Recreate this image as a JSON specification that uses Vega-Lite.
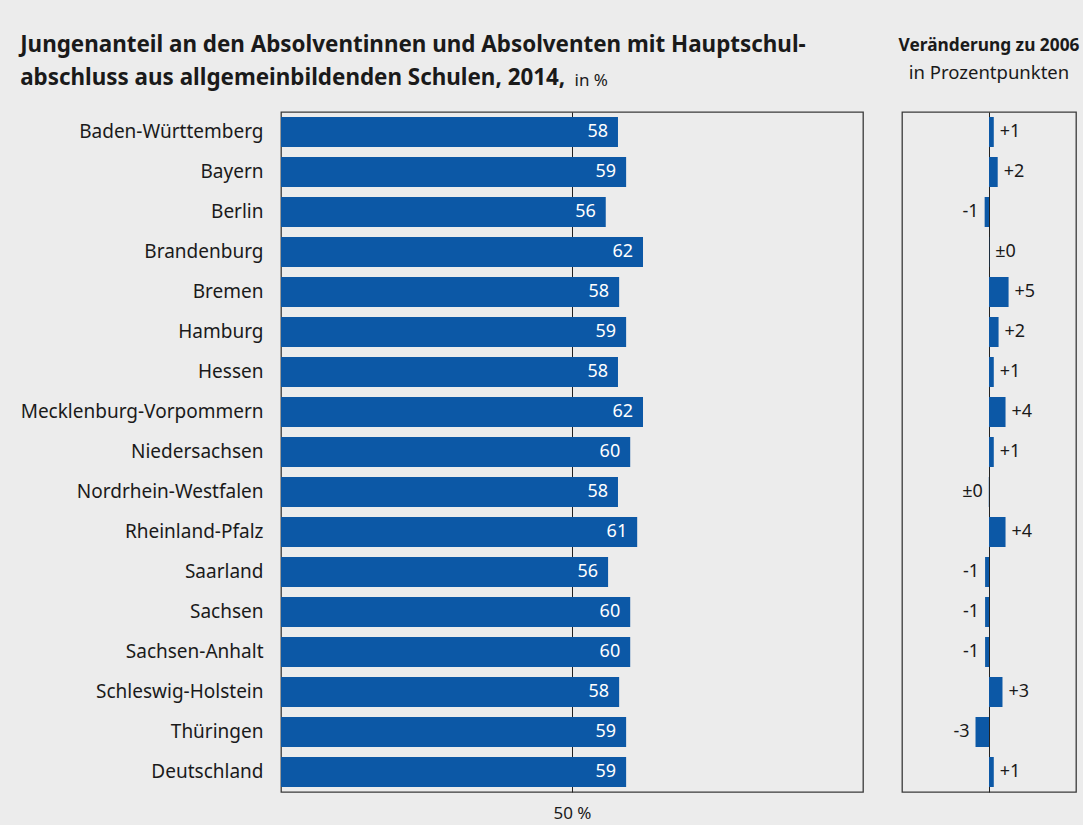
{
  "$schema": "https://vega.github.io/schema/vega-lite/v6.json",
  "background": "#ececec",
  "padding": {"left": 19, "top": 32, "right": 5, "bottom": 8},
  "bounds": "flush",
  "spacing": 39,
  "title": {"text": "in %", "anchor": "start", "dx": 555, "dy": 61, "fontSize": 17, "fontWeight": "normal", "color": "#1a1a1a"},
  "datasets": {
    "d": [
      {"land": "Baden-Württemberg", "share": 57.9, "change": 1.1, "cl": "+1"},
      {"land": "Bayern", "share": 59.3, "change": 2.0, "cl": "+2"},
      {"land": "Berlin", "share": 55.8, "change": -1.0, "cl": "-1"},
      {"land": "Brandenburg", "share": 62.2, "change": 0.05, "cl": "±0"},
      {"land": "Bremen", "share": 58.1, "change": 4.5, "cl": "+5"},
      {"land": "Hamburg", "share": 59.3, "change": 2.2, "cl": "+2"},
      {"land": "Hessen", "share": 57.9, "change": 1.1, "cl": "+1"},
      {"land": "Mecklenburg-Vorpommern", "share": 62.2, "change": 3.8, "cl": "+4"},
      {"land": "Niedersachsen", "share": 60.0, "change": 1.1, "cl": "+1"},
      {"land": "Nordrhein-Westfalen", "share": 57.9, "change": -0.05, "cl": "±0"},
      {"land": "Rheinland-Pfalz", "share": 61.2, "change": 3.8, "cl": "+4"},
      {"land": "Saarland", "share": 56.2, "change": -0.9, "cl": "-1"},
      {"land": "Sachsen", "share": 60.0, "change": -0.9, "cl": "-1"},
      {"land": "Sachsen-Anhalt", "share": 60.0, "change": -0.9, "cl": "-1"},
      {"land": "Schleswig-Holstein", "share": 58.1, "change": 3.1, "cl": "+3"},
      {"land": "Thüringen", "share": 59.3, "change": -3.1, "cl": "-3"},
      {"land": "Deutschland", "share": 59.3, "change": 1.1, "cl": "+1"}
    ]
  },
  "hconcat": [
    {
      "width": 582,
      "height": 680,
      "title": {
        "text": ["Jungenanteil an den Absolventinnen und Absolventen mit Hauptschul-", "abschluss aus allgemeinbildenden Schulen, 2014,"],
        "anchor": "start",
        "frame": "bounds",
        "fontSize": 22.4,
        "fontWeight": "bold",
        "lineHeight": 33,
        "offset": 23,
        "color": "#1a1a1a"
      },
      "data": {"name": "d"},
      "encoding": {
        "y": {
          "field": "land",
          "type": "nominal",
          "sort": null,
          "scale": {"paddingInner": 0.25, "paddingOuter": 0.125},
          "axis": {"title": null, "ticks": false, "domain": false, "labelFontSize": 19, "labelLimit": 400, "labelPadding": 18, "labelColor": "#1a1a1a"}
        }
      },
      "layer": [
        {
          "mark": {"type": "bar", "color": "#0c58a6"},
          "encoding": {
            "x": {
              "field": "share",
              "type": "quantitative",
              "scale": {"domain": [0, 100]},
              "axis": {"title": null, "values": [50], "grid": true, "gridColor": "#222222", "gridWidth": 1, "domain": false, "ticks": false, "labelExpr": "'50 %'", "labelFontSize": 17, "labelPadding": 13, "labelColor": "#1a1a1a"}
            }
          }
        },
        {
          "mark": {"type": "text", "align": "right", "dx": -10, "color": "white", "fontSize": 18},
          "encoding": {
            "x": {"field": "share", "type": "quantitative"},
            "text": {"field": "share", "format": ".0f"}
          }
        }
      ]
    },
    {
      "width": 174,
      "height": 680,
      "title": {
        "text": "Veränderung zu 2006",
        "subtitle": "in Prozentpunkten",
        "anchor": "middle",
        "fontSize": 17.3,
        "fontWeight": "bold",
        "subtitleFontSize": 18.5,
        "subtitlePadding": 9,
        "offset": 30,
        "color": "#1a1a1a",
        "subtitleColor": "#1a1a1a"
      },
      "data": {"name": "d"},
      "encoding": {
        "y": {
          "field": "land",
          "type": "nominal",
          "sort": null,
          "scale": {"paddingInner": 0.25, "paddingOuter": 0.125},
          "axis": null
        }
      },
      "layer": [
        {
          "mark": {"type": "bar", "color": "#0c58a6"},
          "encoding": {
            "x": {
              "field": "change",
              "type": "quantitative",
              "scale": {"domain": [-20, 20]},
              "axis": {"title": null, "values": [0], "grid": true, "gridColor": "#222222", "gridWidth": 1, "domain": false, "ticks": false, "labels": false}
            }
          }
        },
        {
          "transform": [{"filter": "datum.change >= 0"}],
          "mark": {"type": "text", "align": "left", "dx": 6, "color": "#1a1a1a", "fontSize": 18},
          "encoding": {
            "x": {"field": "change", "type": "quantitative"},
            "text": {"field": "cl"}
          }
        },
        {
          "transform": [{"filter": "datum.change < 0"}],
          "mark": {"type": "text", "align": "right", "dx": -6, "color": "#1a1a1a", "fontSize": 18},
          "encoding": {
            "x": {"field": "change", "type": "quantitative"},
            "text": {"field": "cl"}
          }
        }
      ]
    }
  ],
  "config": {
    "font": "Noto Sans",
    "view": {"stroke": "#3a3a3a", "strokeWidth": 1.3}
  }
}
